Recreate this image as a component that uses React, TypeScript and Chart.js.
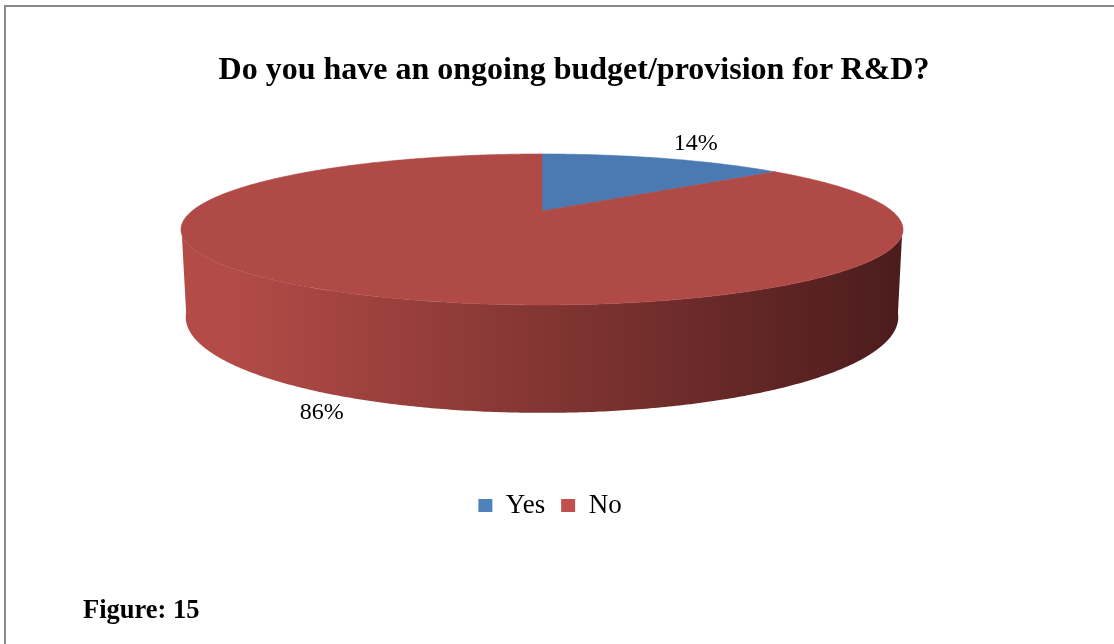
import React, { useEffect, useRef } from 'react';
import { Chart, registerables } from 'chart.js';

Chart.register(...registerables);

// ---- data ----
const categories = ['Yes', 'No'];
const values = [14, 86];

// ---- styles ----
const legendColors = ['#4F81BD', '#C0504D'];
const topColors = ['#4A7AB1', '#B04A46'];
const sideLight = ['#4A7AB1', '#B34B47'];
const sideDark = ['#1E3250', '#4B1C1C'];
const SERIF = "'Liberation Serif', 'Times New Roman', serif";

// ---- 3D projection (perspective) ----
const CX = 542;
const CY = 211;
const F = 1400;
const DIST = 4;
const TILT = (11.7 * Math.PI) / 180;
const COS = Math.cos(TILT);
const SIN = Math.sin(TILT);
const THICK = 0.245;

function project(X: number, Y: number, Z: number): [number, number] {
  const depth = DIST - (Y * SIN + Z * COS);
  return [CX + (F * X) / depth, CY - (F * (Y * COS - Z * SIN)) / depth];
}

function rimPoint(a: number, Y: number, r = 1): [number, number] {
  return project(Math.cos(a) * r, Y, Math.sin(a) * r);
}

const pie3d = {
  id: 'pie3d',
  beforeDatasetsDraw(chart: any) {
    const ctx: CanvasRenderingContext2D = chart.ctx;
    const meta = chart.getDatasetMeta(0);
    const arcs = meta.data.map((el: any, i: number) => {
      const p = el.getProps(['startAngle', 'endAngle'], true);
      return { i, a0: p.startAngle as number, a1: p.endAngle as number };
    });
    const step = Math.PI / 360;

    // silhouette x-range for side gradient
    const sil = COS / DIST;
    const leftX = project(-Math.sqrt(1 - sil * sil), 0, sil)[0];
    const rightX = project(Math.sqrt(1 - sil * sil), 0, sil)[0];

    // visible outer wall interval (facing camera)
    const vis = Math.asin(Math.min(0.99, 1 / (DIST * COS))) - 0.06;
    const v0 = vis;
    const v1 = Math.PI - vis;

    ctx.save();
    // outer walls
    arcs.forEach((arc: any) => {
      for (let k = -1; k <= 1; k++) {
        const lo = Math.max(arc.a0, v0 + k * 2 * Math.PI);
        const hi = Math.min(arc.a1, v1 + k * 2 * Math.PI);
        if (hi <= lo) continue;
        const grad = ctx.createLinearGradient(leftX, 0, rightX, 0);
        grad.addColorStop(0, sideLight[arc.i]);
        grad.addColorStop(0.07, sideLight[arc.i]);
        grad.addColorStop(1, sideDark[arc.i]);
        ctx.beginPath();
        for (let a = lo; a <= hi + 1e-9; a += step) {
          const [x, y] = rimPoint(Math.min(a, hi), 0);
          if (a === lo) ctx.moveTo(x, y);
          else ctx.lineTo(x, y);
        }
        for (let a = hi; a >= lo - 1e-9; a -= step) {
          const [x, y] = rimPoint(Math.max(a, lo), -THICK);
          ctx.lineTo(x, y);
        }
        ctx.closePath();
        ctx.fillStyle = grad;
        ctx.fill();
      }
    });

    // top faces
    arcs.forEach((arc: any) => {
      const c = project(0, 0, 0);
      ctx.beginPath();
      ctx.moveTo(c[0], c[1]);
      for (let a = arc.a0; a <= arc.a1 + 1e-9; a += step) {
        const [x, y] = rimPoint(Math.min(a, arc.a1), 0);
        ctx.lineTo(x, y);
      }
      const [ex, ey] = rimPoint(arc.a1, 0);
      ctx.lineTo(ex, ey);
      ctx.closePath();
      ctx.fillStyle = topColors[arc.i];
      ctx.fill();
      ctx.strokeStyle = topColors[arc.i];
      ctx.lineWidth = 0.6;
      ctx.stroke();
    });

    // data labels
    const total = values.reduce((s, v) => s + v, 0);
    const mid = project(0, -THICK / 2, 0);
    ctx.fillStyle = '#000';
    ctx.font = `24px ${SERIF}`;
    ctx.textAlign = 'center';
    ctx.textBaseline = 'middle';
    arcs.forEach((arc: any) => {
      const m = (arc.a0 + arc.a1) / 2;
      const far = Math.sin(m) < 0;
      const [ax, ay] = rimPoint(m, far ? 0 : -THICK);
      const dx = ax - mid[0];
      const dy = (ay - mid[1]) * 0.6;
      const len = Math.hypot(dx, dy) || 1;
      const off = 35;
      const txt = Math.round((values[arc.i] / total) * 100) + '%';
      ctx.fillText(txt, ax + (dx / len) * off, ay + (dy / len) * off);
    });
    ctx.restore();
    return false;
  },
};

export default function App() {
  const ref = useRef<HTMLCanvasElement>(null);
  useEffect(() => {
    const chart = new Chart(ref.current as HTMLCanvasElement, {
      type: 'pie',
      data: {
        labels: categories,
        datasets: [{ data: values, backgroundColor: legendColors, borderWidth: 0 }],
      },
      options: {
        responsive: false,
        animation: false,
        devicePixelRatio: 1,
        layout: { padding: { left: 0, right: 14, top: 0, bottom: 115 } },
        plugins: {
          legend: {
            position: 'bottom',
            labels: {
              boxWidth: 14,
              boxHeight: 13,
              padding: 16,
              color: '#000',
              font: { family: SERIF, size: 27 },
            },
          },
          tooltip: { enabled: false },
          title: { display: false },
        },
      } as any,
      plugins: [pie3d as any],
    });
    return () => chart.destroy();
  }, []);

  return (
    <div
      style={{
        position: 'fixed',
        left: 0,
        top: 0,
        width: 1114,
        height: 644,
        background: '#fff',
        overflow: 'hidden',
      }}
    >
      <canvas
        ref={ref}
        width={1114}
        height={644}
        style={{ position: 'absolute', left: 0, top: 0, width: 1114, height: 644 }}
      />
      <div
        style={{
          position: 'absolute',
          left: 4,
          top: 5,
          width: 1200,
          height: 700,
          borderTop: '2px solid #8A8A8A',
          borderLeft: '2px solid #8A8A8A',
          pointerEvents: 'none',
        }}
      />
      <div
        style={{
          position: 'absolute',
          left: 574,
          top: 52,
          transform: 'translateX(-50%)',
          whiteSpace: 'nowrap',
          fontFamily: SERIF,
          fontWeight: 'bold',
          fontSize: 32,
          lineHeight: '32px',
          color: '#000',
        }}
      >
        Do you have an ongoing budget/provision for R&amp;D?
      </div>
      <div
        style={{
          position: 'absolute',
          left: 83,
          top: 596,
          whiteSpace: 'nowrap',
          fontFamily: SERIF,
          fontWeight: 'bold',
          fontSize: 26.5,
          lineHeight: '26px',
          color: '#000',
        }}
      >
        Figure: 15
      </div>
    </div>
  );
}
